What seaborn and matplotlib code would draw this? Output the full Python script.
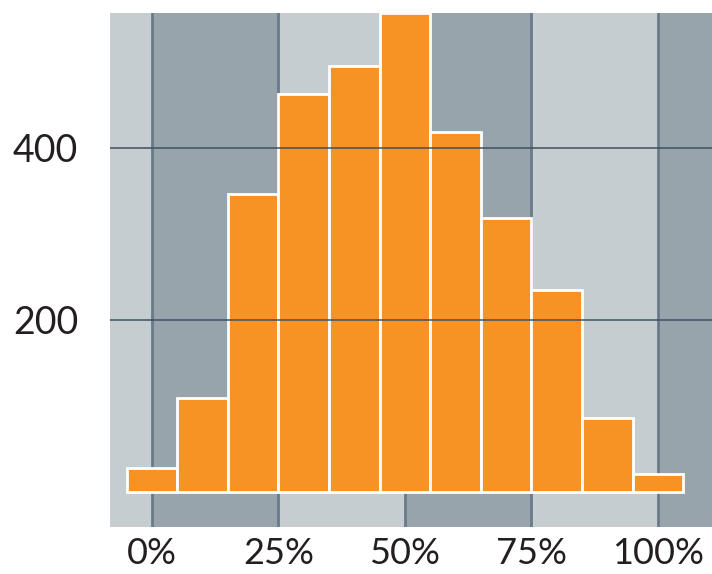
import matplotlib
matplotlib.use("Agg")
import matplotlib.pyplot as plt
import seaborn as sns
import numpy as np
from matplotlib.ticker import PercentFormatter

# histogram counts, one bin per 10% step
bin_centers = [0.0, 0.1, 0.2, 0.3, 0.4, 0.5, 0.6, 0.7, 0.8, 0.9, 1.0]
counts = [28, 109, 347, 463, 495, 557, 419, 319, 235, 86, 21]

x_ticks = [0.0, 0.25, 0.5, 0.75, 1.0]
y_ticks = [200, 400]

band_light = "#c5cdd1"
band_dark = "#97a4ab"
bar_color = "#f69324"
text_color = "#231f20"

sns.set_style("white")
plt.rcParams["font.family"] = ["Lato", "DejaVu Sans"]

fig = plt.figure(figsize=(7.12, 5.74), dpi=100)
ax = fig.add_axes([110 / 712, 47 / 574, 602 / 712, 514 / 574])

xlim = (-0.083, 1.107)
ax.set_facecolor(band_light)
# alternating bands between the x ticks
edges = [xlim[0]] + x_ticks + [xlim[1]]
for i in range(len(edges) - 1):
    color = band_dark if i % 2 == 1 else band_light
    ax.axvspan(edges[i], edges[i + 1], color=color, lw=0, zorder=0)
for t in x_ticks:
    ax.axvline(t, color="#687b8a", lw=2, zorder=0.5)

sns.histplot(x=bin_centers, weights=counts, binwidth=0.1, binrange=(-0.05, 1.05),
             color=bar_color, alpha=1, edgecolor="white", linewidth=2, ax=ax, zorder=2)

for t in y_ticks:
    ax.axhline(t, color="#3e4e5e", lw=1.2, alpha=0.9, zorder=3)

ax.set_xlim(*xlim)
ax.set_ylim(-41, 557)
ax.set_xticks(x_ticks)
ax.set_yticks(y_ticks)
ax.xaxis.set_major_formatter(PercentFormatter(1.0, decimals=0))
ax.set_xlabel("")
ax.set_ylabel("")
ax.tick_params(axis="x", length=0, pad=7, labelsize=26, labelcolor=text_color)
ax.tick_params(axis="y", length=18, width=1.2, color="#3e4e5e", pad=5,
               labelsize=27, labelcolor=text_color)
for s in ax.spines.values():
    s.set_visible(False)

fig.savefig("out.png", dpi=100)
